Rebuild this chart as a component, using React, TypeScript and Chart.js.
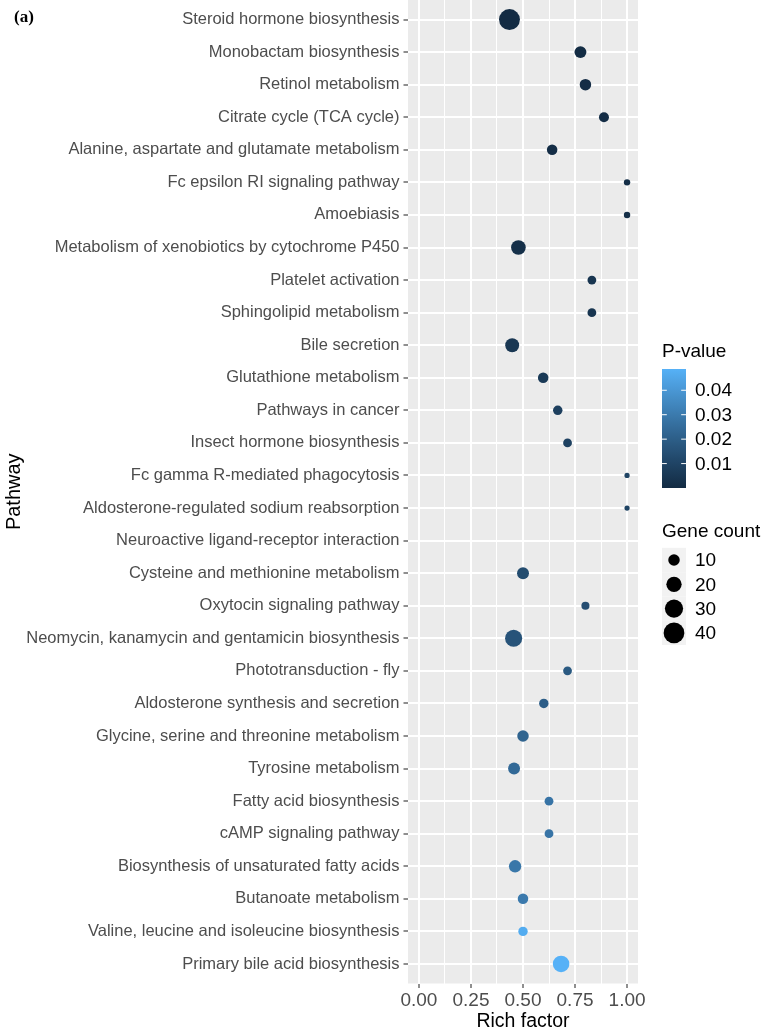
import React, { useEffect, useRef } from "react";
import { Chart, registerables } from "chart.js";

Chart.register(...registerables);

const pathways = [
  "Steroid hormone biosynthesis",
  "Monobactam biosynthesis",
  "Retinol metabolism",
  "Citrate cycle (TCA cycle)",
  "Alanine, aspartate and glutamate metabolism",
  "Fc epsilon RI signaling pathway",
  "Amoebiasis",
  "Metabolism of xenobiotics by cytochrome P450",
  "Platelet activation",
  "Sphingolipid metabolism",
  "Bile secretion",
  "Glutathione metabolism",
  "Pathways in cancer",
  "Insect hormone biosynthesis",
  "Fc gamma R-mediated phagocytosis",
  "Aldosterone-regulated sodium reabsorption",
  "Neuroactive ligand-receptor interaction",
  "Cysteine and methionine metabolism",
  "Oxytocin signaling pathway",
  "Neomycin, kanamycin and gentamicin biosynthesis",
  "Phototransduction - fly",
  "Aldosterone synthesis and secretion",
  "Glycine, serine and threonine metabolism",
  "Tyrosine metabolism",
  "Fatty acid biosynthesis",
  "cAMP signaling pathway",
  "Biosynthesis of unsaturated fatty acids",
  "Butanoate metabolism",
  "Valine, leucine and isoleucine biosynthesis",
  "Primary bile acid biosynthesis",
];

const richFactor: (number | null)[] = [
  0.435, 0.776, 0.8, 0.889, 0.64, 1.0, 1.0, 0.478, 0.831, 0.831,
  0.448, 0.597, 0.667, 0.714, 1.0, 1.0, null, 0.5, 0.8, 0.455,
  0.714, 0.6, 0.5, 0.457, 0.625, 0.625, 0.462, 0.5, 0.5, 0.683,
];

const geneCount: (number | null)[] = [
  41, 11, 10, 7, 8, 2, 2, 18, 5, 5,
  16, 8, 6, 5, 1, 1, null, 11, 4, 26,
  5, 6, 10, 11, 5, 5, 12, 8, 6, 24,
];

const pValue: (number | null)[] = [
  0.00001, 0.0003, 0.0005, 0.0008, 0.001, 0.0015, 0.0015, 0.002, 0.004, 0.004,
  0.005, 0.006, 0.008, 0.009, 0.010, 0.010, null, 0.013, 0.014, 0.016,
  0.018, 0.020, 0.022, 0.024, 0.028, 0.028, 0.029, 0.030, 0.047, 0.0487,
];

const xTicks = [0, 0.125, 0.25, 0.375, 0.5, 0.625, 0.75, 0.875, 1];
const pValueTicks = [0.01, 0.02, 0.03, 0.04];
const countBreaks = [10, 20, 30, 40];

const LOW = "#132B43";
const HIGH = "#56B1F7";

function hexToRgb(h: string): number[] {
  const n = parseInt(h.slice(1), 16);
  return [(n >> 16) & 255, (n >> 8) & 255, n & 255];
}
function toLin(c: number) {
  c /= 255;
  return c <= 0.04045 ? c / 12.92 : Math.pow((c + 0.055) / 1.055, 2.4);
}
function fromLin(c: number) {
  const v = c <= 0.0031308 ? 12.92 * c : 1.055 * Math.pow(c, 1 / 2.4) - 0.055;
  return Math.max(0, Math.min(255, Math.round(v * 255)));
}
function rgbToLab(rgb: number[]) {
  const [R, G, B] = rgb.map(toLin);
  const X = (0.4124 * R + 0.3576 * G + 0.1805 * B) / 0.95047;
  const Y = 0.2126 * R + 0.7152 * G + 0.0722 * B;
  const Z = (0.0193 * R + 0.1192 * G + 0.9505 * B) / 1.08883;
  const f = (t: number) => (t > 0.008856 ? Math.cbrt(t) : 7.787 * t + 16 / 116);
  const fx = f(X), fy = f(Y), fz = f(Z);
  return [116 * fy - 16, 500 * (fx - fy), 200 * (fy - fz)];
}
function labToRgb(lab: number[]) {
  const [L, a, b] = lab;
  const fy = (L + 16) / 116;
  const fx = fy + a / 500;
  const fz = fy - b / 200;
  const inv = (t: number) => (t * t * t > 0.008856 ? t * t * t : (t - 16 / 116) / 7.787);
  const X = inv(fx) * 0.95047, Y = inv(fy), Z = inv(fz) * 1.08883;
  const R = 3.2406 * X - 1.5372 * Y - 0.4986 * Z;
  const G = -0.9689 * X + 1.8758 * Y + 0.0415 * Z;
  const B = 0.0557 * X - 0.204 * Y + 1.057 * Z;
  return [fromLin(R), fromLin(G), fromLin(B)];
}
const labLow = rgbToLab(hexToRgb(LOW));
const labHigh = rgbToLab(hexToRgb(HIGH));
function gradientColor(t: number) {
  const tt = Math.max(0, Math.min(1, t));
  const lab = labLow.map((v, i) => v + (labHigh[i] - v) * tt);
  const [r, g, b] = labToRgb(lab);
  return `rgb(${r},${g},${b})`;
}

const validP = pValue.filter((v): v is number => v !== null);
const pMin = Math.min(...validP);
const pMax = Math.max(...validP);
const pColor = (p: number) => gradientColor((p - pMin) / (pMax - pMin));
const diameter = (c: number) => 2.3 + 2.91 * Math.sqrt(c);

const FONT = "'Liberation Sans', Arial, Helvetica, sans-serif";

const legendPlugin = {
  id: "ggLegend",
  beforeDraw(chart: any) {
    const { ctx, chartArea } = chart;
    ctx.save();
    ctx.fillStyle = "#FFFFFF";
    ctx.fillRect(0, 0, chart.width, chart.height);
    ctx.fillStyle = "#EBEBEB";
    ctx.fillRect(chartArea.left, chartArea.top, chartArea.right - chartArea.left, chartArea.bottom - chartArea.top);
    ctx.restore();
  },
  afterDraw(chart: any) {
    const { ctx } = chart;
    ctx.save();
    // panel tag
    ctx.fillStyle = "#000";
    ctx.font = `bold 17px 'Liberation Serif', 'Times New Roman', serif`;
    ctx.textAlign = "left";
    ctx.textBaseline = "middle";
    ctx.fillText("(a)", 14, 18);

    // colour bar legend
    const lx = 662;
    ctx.font = `19px ${FONT}`;
    ctx.fillStyle = "#000";
    ctx.fillText("P-value", lx, 352);
    const barTop = 369, barBottom = 488, barW = 24;
    const grad = ctx.createLinearGradient(0, barBottom, 0, barTop);
    for (let i = 0; i <= 20; i++) grad.addColorStop(i / 20, gradientColor(i / 20));
    ctx.fillStyle = grad;
    ctx.fillRect(lx, barTop, barW, barBottom - barTop);
    ctx.strokeStyle = "#FFFFFF";
    ctx.lineWidth = 1;
    ctx.fillStyle = "#000";
    pValueTicks.forEach((v) => {
      const y = barBottom - ((v - pMin) / (pMax - pMin)) * (barBottom - barTop);
      ctx.beginPath();
      ctx.moveTo(lx, y);
      ctx.lineTo(lx + 4.8, y);
      ctx.moveTo(lx + barW - 4.8, y);
      ctx.lineTo(lx + barW, y);
      ctx.stroke();
      ctx.fillText(v.toFixed(2), 695, y + 1);
    });

    // size legend
    ctx.fillText("Gene count", lx, 532);
    const keyH = 24.3;
    countBreaks.forEach((c, i) => {
      const cy = 560 + i * keyH;
      ctx.fillStyle = "#F2F2F2";
      ctx.fillRect(lx, cy - keyH / 2, barW, keyH);
      ctx.fillStyle = "#000";
      ctx.beginPath();
      ctx.arc(lx + barW / 2, cy, diameter(c) / 2, 0, Math.PI * 2);
      ctx.fill();
      ctx.fillText(String(c), 695, cy + 1);
    });
    ctx.restore();
  },
};

export default function App() {
  const ref = useRef<HTMLCanvasElement>(null);
  useEffect(() => {
    if (!ref.current) return;
    const points = pathways.map((_, i) => ({ x: richFactor[i], y: i }));
    const chart = new Chart(ref.current, {
      type: "scatter",
      data: {
        datasets: [
          {
            data: points as any,
            pointRadius: (ctx: any) => {
              const c = geneCount[ctx.dataIndex];
              return c === null ? 0 : diameter(c) / 2;
            },
            pointBackgroundColor: (ctx: any) => {
              const p = pValue[ctx.dataIndex];
              return p === null ? "rgba(0,0,0,0)" : pColor(p);
            },
            pointBorderWidth: 0,
            pointHoverRadius: 0,
          },
        ],
      },
      plugins: [legendPlugin],
      options: {
        responsive: false,
        animation: false,
        devicePixelRatio: 1,
        events: [],
        layout: { autoPadding: false, padding: { left: 0, right: 125, top: 0, bottom: 0 } },
        plugins: { legend: { display: false }, tooltip: { enabled: false } },
        scales: {
          x: {
            type: "linear",
            min: -0.0526,
            max: 1.0526,
            afterBuildTicks: (s: any) => {
              s.ticks = xTicks.map((v) => ({ value: v }));
            },
            afterFit: (s: any) => {
              s.height = 44.5;
              s.paddingLeft = 0;
              s.paddingRight = 0;
            },
            border: { display: false },
            grid: {
              color: "#FFFFFF",
              lineWidth: (c: any) => (Math.abs((c.tick.value * 4) % 1) < 1e-6 ? 2 : 1),
              tickColor: (c: any) => (Math.abs((c.tick.value * 4) % 1) < 1e-6 ? "#333333" : "rgba(0,0,0,0)"),
              tickWidth: 1.1,
              tickLength: 4.5,
              drawTicks: true,
            },
            ticks: {
              autoSkip: false,
              maxRotation: 0,
              padding: 1,
              color: "#4D4D4D",
              font: { family: FONT, size: 19 },
              callback: (v: any) => {
                const n = Number(v);
                return Math.abs((n * 4) % 1) < 1e-6 ? n.toFixed(2) : "";
              },
            },
            title: {
              display: true,
              text: "Rich factor",
              color: "#000",
              font: { family: FONT, size: 19.5, lineHeight: 1 },
              padding: { top: 0, bottom: -3 },
            },
          },
          y: {
            type: "linear",
            min: -0.6,
            max: 29.6,
            reverse: true,
            afterBuildTicks: (s: any) => {
              s.ticks = pathways.map((_, i) => ({ value: i }));
            },
            afterFit: (s: any) => {
              s.width = 408;
              s.paddingTop = 0;
              s.paddingBottom = 0;
            },
            border: { display: false },
            grid: {
              color: "#FFFFFF",
              lineWidth: 2,
              tickColor: "#333333",
              tickWidth: 1.1,
              tickLength: 4.5,
              drawTicks: true,
            },
            ticks: {
              autoSkip: false,
              padding: 4,
              color: "#4D4D4D",
              font: { family: FONT, size: 16.5 },
              callback: (v: any) => pathways[Number(v)] ?? "",
            },
            title: {
              display: true,
              text: "Pathway",
              color: "#000",
              font: { family: FONT, size: 20, lineHeight: 1 },
              padding: { top: 4, bottom: 0 },
            },
          },
        },
      },
    });
    return () => chart.destroy();
  }, []);
  return (
    <div style={{ position: "absolute", left: 0, top: 0, width: 763, height: 1028 }}>
      <canvas ref={ref} width={763} height={1028} style={{ display: "block", width: 763, height: 1028 }} />
    </div>
  );
}
